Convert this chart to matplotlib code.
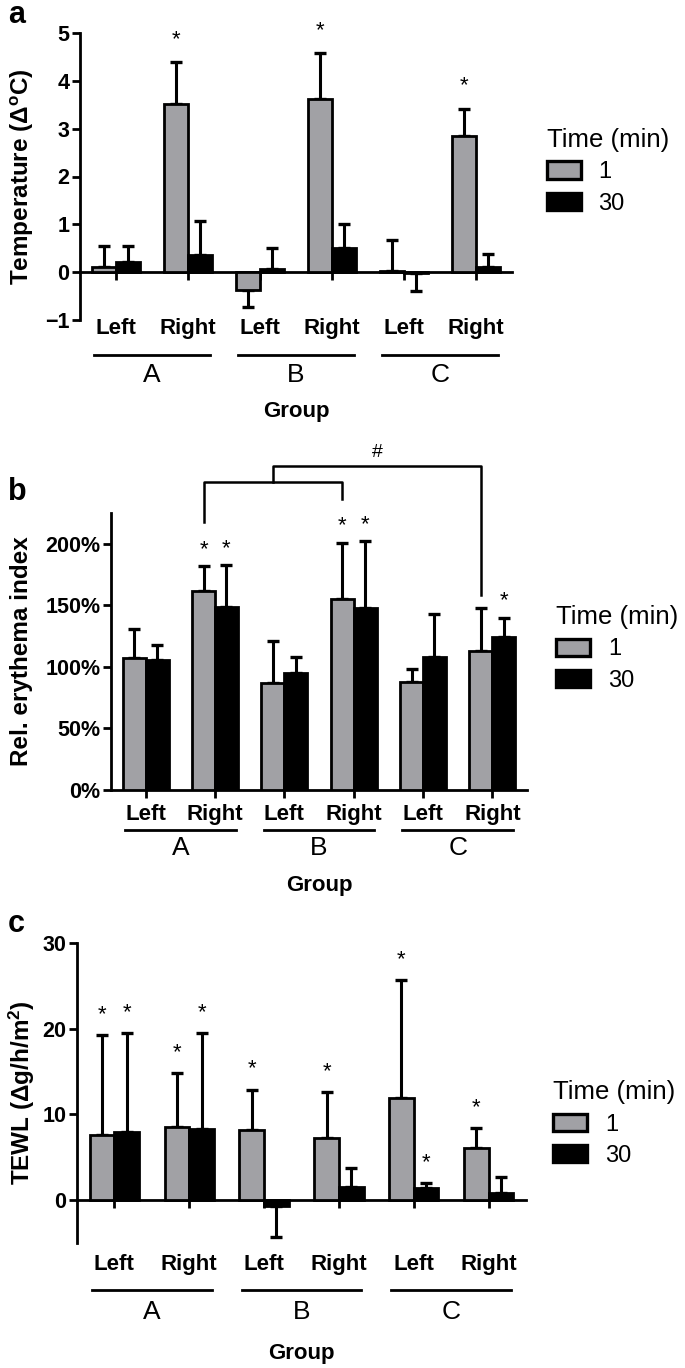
import matplotlib
matplotlib.use("Agg")
import matplotlib.pyplot as plt
import matplotlib.transforms as mtransforms
from matplotlib.patches import Patch
from matplotlib.ticker import FuncFormatter
import numpy as np

plt.rcParams['font.family'] = ['Liberation Sans', 'DejaVu Sans']

sides = ["Left", "Right", "Left", "Right", "Left", "Right"]
groups = ["A", "B", "C"]
times = ["1", "30"]

# a - temperature change, mean and SD
temp_1 = [0.10, 3.52, -0.37, 3.63, 0.02, 2.84]
temp_1_sd = [0.44, 0.88, 0.36, 0.95, 0.66, 0.58]
temp_30 = [0.21, 0.35, 0.06, 0.51, -0.02, 0.10]
temp_30_sd = [0.33, 0.73, 0.44, 0.49, 0.37, 0.28]
temp_stars_1 = [1, 3, 5]
temp_stars_30 = []

# b - relative erythema index (%)
ery_1 = [107, 162, 87, 155, 88, 113]
ery_1_sd = [24, 20, 34, 46, 10, 35]
ery_30 = [106, 149, 95, 148, 108, 124]
ery_30_sd = [12, 34, 13, 54, 35, 16]
ery_stars_1 = [1, 3]
ery_stars_30 = [1, 3, 5]

# c - TEWL
tewl_1 = [7.6, 8.5, 8.2, 7.2, 11.9, 6.1]
tewl_1_sd = [11.7, 6.3, 4.7, 5.4, 13.8, 2.3]
tewl_30 = [8.0, 8.3, -0.7, 1.5, 1.4, 0.8]
tewl_30_sd = [11.5, 11.2, 3.6, 2.3, 0.6, 1.9]
tewl_stars_1 = [0, 1, 2, 3, 4, 5]
tewl_stars_30 = [0, 1, 4]

GRAY = '#a1a1a5'
LW = 2.0
W = 0.33

fig = plt.figure(figsize=(6.85, 13.68), dpi=100)


def below(ax, px):
    # x in data, y at axes bottom shifted down by px pixels
    return mtransforms.offset_copy(ax.get_xaxis_transform(), fig=fig, y=-px, units='dots')


def draw_panel(ax, m1, s1, m30, s30, st1, st30, ylim, yticks, star_px, offs, leg_xy):
    x = np.arange(len(sides))
    ax.bar(x - W, m1, width=W, align='edge', color=GRAY, edgecolor='black', linewidth=LW, zorder=3)
    ax.bar(x, m30, width=W, align='edge', color='black', edgecolor='black', linewidth=LW, zorder=3)

    for xs, m, s, st in ((x - W / 2, m1, s1, st1), (x + W / 2, m30, s30, st30)):
        m = np.asarray(m, dtype=float)
        s = np.asarray(s, dtype=float)
        lower = np.where(m < 0, s, 0)
        upper = np.where(m >= 0, s, 0)
        ax.errorbar(xs, m, yerr=[lower, upper], fmt='none', ecolor='black',
                    elinewidth=2.2, capsize=4.5, capthick=2.4, zorder=2)
        for i in st:
            ax.annotate('*', xy=(xs[i], m[i] + s[i]), xytext=(0, star_px * 0.72),
                        textcoords='offset points', ha='center', va='baseline',
                        fontsize=16, annotation_clip=False)

    ax.set_xlim(-0.5, len(sides) - 0.5)
    ax.set_ylim(*ylim)
    ax.set_yticks(yticks)
    ax.spines[['top', 'right']].set_visible(False)
    ax.spines['bottom'].set_position(('data', 0))
    ax.spines[['left', 'bottom']].set_linewidth(LW)
    ax.set_xticks(x)
    ax.set_xticklabels([])
    ax.tick_params(axis='both', direction='out', length=6, width=LW)
    ax.tick_params(axis='y', labelsize=15.5, pad=1.5)
    for lab in ax.get_yticklabels():
        lab.set_fontweight('bold')

    lab_px, line_px, letter_px, group_px = offs
    for i, s in enumerate(sides):
        ax.text(i, 0, s, transform=below(ax, lab_px), ha='center', va='baseline',
                fontsize=16, fontweight='bold')
    for g, name in enumerate(groups):
        ax.plot([2 * g - 0.3, 2 * g + 1.3], [0, 0], transform=below(ax, line_px),
                color='black', lw=LW, clip_on=False)
        ax.text(2 * g + 0.5, 0, name, transform=below(ax, letter_px), ha='center',
                va='center', fontsize=19)
    ax.text(2.5, 0, 'Group', transform=below(ax, group_px), ha='center', va='center',
            fontsize=16, fontweight='bold')

    handles = [Patch(facecolor=GRAY, edgecolor='black', linewidth=2.4),
               Patch(facecolor='black', edgecolor='black', linewidth=2.4)]
    ax.legend(handles, times, title='Time (min)', loc='upper left', bbox_to_anchor=leg_xy,
              frameon=False, fontsize=17, title_fontsize=18.5, handlelength=1.45,
              handleheight=0.75, handletextpad=0.75, labelspacing=0.4, borderpad=0,
              borderaxespad=0, alignment='left')


def side_text(ax, label, letter, letter_y):
    pos = ax.get_position()
    fig.text(22 / 685, pos.y0 + pos.height / 2, label, rotation=90, ha='center',
             va='center', fontsize=17.5, fontweight='bold')
    fig.text(8 / 685, 1 - letter_y / 1368, letter, ha='left', va='baseline',
             fontsize=22, fontweight='bold')


# panel a
ax_a = fig.add_axes([80 / 685, 1 - 320 / 1368, 432 / 685, 287 / 1368])
draw_panel(ax_a, temp_1, temp_1_sd, temp_30, temp_30_sd, temp_stars_1, temp_stars_30,
           (-1, 5), range(-1, 6), 17, (14, 35, 55, 92), (1.08, 0.67))
side_text(ax_a, 'Temperature (Δ$\\mathregular{^o}$C)', 'a', 23)

# panel b
ax_b = fig.add_axes([111 / 685, 1 - 790 / 1368, 416 / 685, 277 / 1368])
draw_panel(ax_b, ery_1, ery_1_sd, ery_30, ery_30_sd, ery_stars_1, ery_stars_30,
           (0, 225), range(0, 201, 50), 11, (30, 40, 58, 95), (1.07, 0.668))
ax_b.yaxis.set_major_formatter(FuncFormatter(lambda v, p: f'{v:.0f}%'))
for lab in ax_b.get_yticklabels():
    lab.set_fontweight('bold')
xa, xb, xc = 1 - W / 2, 3 - W / 2, 5 - W / 2
mid = (xa + xb) / 2
ax_b.plot([xa, xa, xb, xb], [218, 250, 250, 236], color='black', lw=1.8, clip_on=False)
ax_b.plot([mid, mid, xc, xc], [250, 263, 263, 158], color='black', lw=1.8, clip_on=False)
ax_b.text((mid + xc) / 2, 274, '#', ha='center', va='center', fontsize=14)
side_text(ax_b, 'Rel. erythema index', 'b', 500)

# panel c
ax_c = fig.add_axes([77 / 685, 1 - 1243 / 1368, 449 / 685, 300 / 1368])
draw_panel(ax_c, tewl_1, tewl_1_sd, tewl_30, tewl_30_sd, tewl_stars_1, tewl_stars_30,
           (-5, 30), range(0, 31, 10), 15, (27, 47, 69, 110), (1.06, 0.543))
side_text(ax_c, 'TEWL (Δg/h/m$\\mathregular{^2}$)', 'c', 932)

fig.savefig('out.png', dpi=100)
